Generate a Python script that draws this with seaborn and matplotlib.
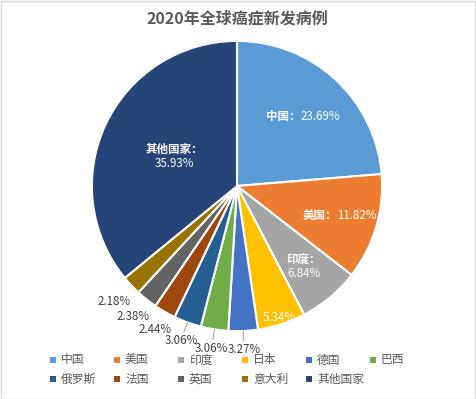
import numpy as np
import matplotlib
matplotlib.use("Agg")
import matplotlib.pyplot as plt
import seaborn as sns
from matplotlib.patches import Rectangle

countries = ["中国", "美国", "印度", "日本", "德国", "巴西", "俄罗斯", "法国", "英国", "意大利", "其他国家"]
shares = [23.69, 11.82, 6.84, 5.34, 3.27, 3.06, 3.06, 2.44, 2.38, 2.18, 35.93]
colors = ["#5B9BD5", "#ED7D31", "#A5A5A5", "#FFC000", "#4472C4", "#70AD47",
          "#255E91", "#9E480E", "#636363", "#997300", "#264478"]
title = "2020年全球癌症新发病例"

sns.set_theme(style="white")
plt.rcParams['font.family'] = ['Noto Sans CJK SC', 'DejaVu Sans']

W, H = 476, 399
fig = plt.figure(figsize=(W / 100, H / 100), dpi=100)
cx, cy, R = 237, 186, 148
ax = fig.add_axes([(cx - R) / W, (H - cy - R) / H, 2 * R / W, 2 * R / H])
ax.set_aspect('equal')

palette = sns.color_palette(colors)
wedges, _ = ax.pie(shares, colors=palette, startangle=90, counterclock=False,
                   radius=1.0, wedgeprops=dict(edgecolor='white', linewidth=1.5))
ax.set_xlim(-1.02, 1.02)
ax.set_ylim(-1.02, 1.02)
ax.axis('off')

# label placement
inner = {0: (0.65, 'one'), 1: (0.72, 'one'), 2: (0.72, 'two'), 3: (0.95, 'pct'), 10: (0.48, 'two')}
outer = {4: 1.13, 5: 1.135, 6: 1.13, 7: 1.14, 8: 1.15, 9: 1.16}
leaders = {4, 5, 6}
fs = 8.3

for i, w in enumerate(wedges):
    ang = np.deg2rad((w.theta1 + w.theta2) / 2)
    ca, sa = np.cos(ang), np.sin(ang)
    pct = f"{shares[i]:.2f}%"
    if i in inner:
        r, kind = inner[i]
        x, y = r * ca, r * sa
        if kind == 'one':
            ax.text(x, y, countries[i] + "：", ha='right', va='center', fontsize=fs,
                    fontweight='bold', color='white')
            ax.text(x, y, pct, ha='left', va='center', fontsize=fs, color='white')
        elif kind == 'two':
            ax.text(x, y + 0.05, countries[i] + "：", ha='center', va='center', fontsize=fs,
                    fontweight='bold', color='white')
            ax.text(x, y - 0.05, pct, ha='center', va='center', fontsize=fs, color='white')
        else:
            ax.text(x, y, pct, ha='center', va='center', fontsize=fs, color='white')
    else:
        r = outer[i]
        x, y = r * ca, r * sa
        ax.text(x, y, pct, ha='center', va='center', fontsize=fs, color='#404040')
        if i in leaders:
            ax.plot([1.0 * ca, 1.07 * ca], [1.0 * sa, 1.07 * sa], color='#A6A6A6', lw=0.8,
                    clip_on=False)

fig.text(cx / W, 1 - 18 / H, title, ha='center', va='center', fontsize=11.5,
         fontweight='bold', color='#595959')

# legend laid out on a fixed grid (row-major, 6 per row)
ncol = 6
x0, dx = 53, 64
rows_y = [360, 379]
ms = 6
for k, name in enumerate(countries):
    r_, c_ = divmod(k, ncol)
    mx, my = x0 + c_ * dx, rows_y[r_]
    fig.patches.append(Rectangle(((mx - ms / 2) / W, (H - my - ms / 2) / H), ms / W, ms / H,
                                 transform=fig.transFigure, facecolor=palette[k],
                                 edgecolor='none'))
    fig.text((mx + 8) / W, 1 - my / H, name, ha='left', va='center', fontsize=8.5,
             color='#595959')

fig.patches.append(Rectangle((0.5 / W, 0.5 / H), 1 - 1.5 / W, 1 - 1.5 / H,
                             transform=fig.transFigure, fill=False,
                             edgecolor='#D9D9D9', linewidth=1.0))
fig.savefig("out.png", dpi=100, facecolor='white')
